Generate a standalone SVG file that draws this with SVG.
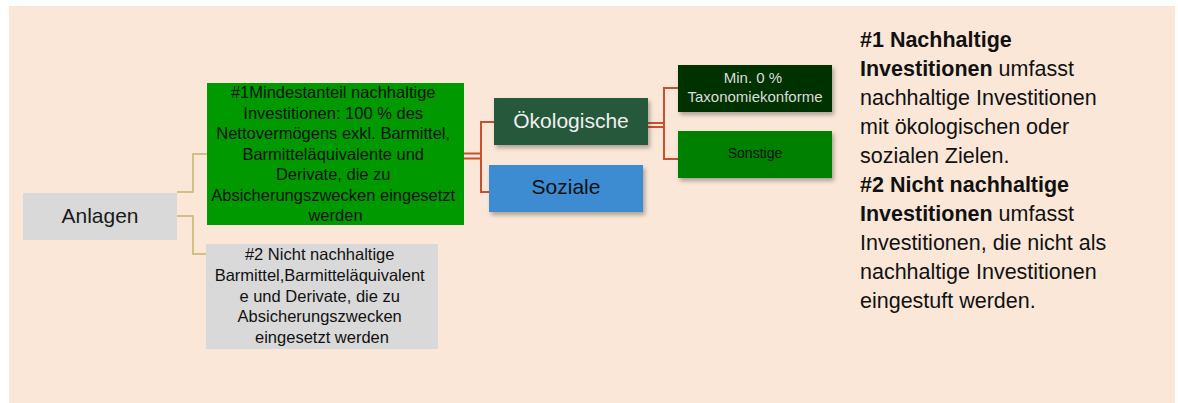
<svg xmlns="http://www.w3.org/2000/svg" width="1178" height="403" viewBox="0 0 1178 403">
<style>
text{font-family:"Liberation Sans",Arial,sans-serif;}
.c{text-anchor:middle;}
.yl{fill:none;stroke:#c8b46a;stroke-width:1.5;}
.rd{fill:none;stroke:#c9502f;stroke-width:2;}
.t1{font-size:16.5px;fill:#111;}
.side{font-size:21.5px;fill:#111;}
.side .b{font-weight:bold;}
</style>
<defs>
<filter id="sh" x="-10%" y="-20%" width="130%" height="160%">
<feDropShadow dx="2" dy="3" stdDeviation="2" flood-color="#000" flood-opacity="0.3"/>
</filter>
</defs>
<rect x="0" y="0" width="1178" height="403" fill="#fff"/>
<rect x="9" y="6" width="1166" height="397" fill="#fae7d7"/>
<g id="connectors">
<polyline class="yl" points="177,192 193,192 193,154 207,154"/>
<polyline class="yl" points="177,216 193,216 193,254 206,254"/>
<line class="rd" x1="464" y1="153.5" x2="481" y2="153.5"/>
<line class="rd" x1="464" y1="158.5" x2="481" y2="158.5"/>
<polyline class="rd" points="494,122 481,122 481,192 489,192"/>
<line class="rd" x1="648" y1="123" x2="664" y2="123"/>
<line class="rd" x1="648" y1="127" x2="664" y2="127"/>
<polyline class="rd" points="678,88 664,88 664,159 678,159"/>
</g>
<g id="anlagen">
<rect x="23" y="193" width="154" height="47" fill="#d9d9d9"/>
<text class="c" x="100" y="223" font-size="21" fill="#1a1a1a">Anlagen</text>
</g>
<g id="n1">
<rect x="207" y="83" width="257" height="142" fill="#009900"/>
<text class="c t1" x="335.5">
<tspan x="335.5" y="98">#1Mindestanteil nachhaltige</tspan>
<tspan x="335.5" y="119">Investitionen: 100 % des</tspan>
<tspan x="335.5" y="139">Nettovermögens exkl. Barmittel,</tspan>
<tspan x="335.5" y="160">Barmitteläquivalente und</tspan>
<tspan x="335.5" y="180">Derivate, die zu</tspan>
<tspan x="335.5" y="201">Absicherungszwecken eingesetzt</tspan>
<tspan x="335.5" y="221">werden</tspan>
</text>
</g>
<g id="n2">
<rect x="206" y="244" width="232" height="105" fill="#d9d9d9"/>
<text class="c t1" x="322">
<tspan x="322" y="260">#2 Nicht nachhaltige</tspan>
<tspan x="322" y="281">Barmittel,Barmitteläquivalent</tspan>
<tspan x="322" y="302">e und Derivate, die zu</tspan>
<tspan x="322" y="322">Absicherungszwecken</tspan>
<tspan x="322" y="343">eingesetzt werden</tspan>
</text>
</g>
<g id="oekologische">
<rect x="494" y="98" width="154" height="47" fill="#26593a" filter="url(#sh)"/>
<text class="c" x="571" y="128" font-size="21" fill="#f0f0f0">Ökologische</text>
</g>
<g id="soziale">
<rect x="489" y="165" width="154" height="47" fill="#3e8bd1" filter="url(#sh)"/>
<text class="c" x="566" y="194" font-size="21" fill="#111">Soziale</text>
</g>
<g id="taxonomie">
<rect x="678" y="65" width="154" height="47" fill="#013300" filter="url(#sh)"/>
<text class="c" x="755" font-size="15" fill="#dcdcdc">
<tspan x="755" y="83">Min. 0 %</tspan>
<tspan x="755" y="102">Taxonomiekonforme</tspan>
</text>
</g>
<g id="sonstige">
<rect x="678" y="131" width="154" height="47" fill="#008000" filter="url(#sh)"/>
<text class="c" x="755" y="158" font-size="14" fill="#111">Sonstige</text>
</g>
<g id="legend">
<text class="side">
<tspan x="860" y="47" class="b">#1 Nachhaltige</tspan>
<tspan x="860" y="76"><tspan class="b">Investitionen</tspan> umfasst</tspan>
<tspan x="860" y="105">nachhaltige Investitionen</tspan>
<tspan x="860" y="134">mit ökologischen oder</tspan>
<tspan x="860" y="163">sozialen Zielen.</tspan>
<tspan x="860" y="192" class="b">#2 Nicht nachhaltige</tspan>
<tspan x="860" y="221"><tspan class="b">Investitionen</tspan> umfasst</tspan>
<tspan x="860" y="250">Investitionen, die nicht als</tspan>
<tspan x="860" y="279">nachhaltige Investitionen</tspan>
<tspan x="860" y="308">eingestuft werden.</tspan>
</text>
</g>
</svg>
